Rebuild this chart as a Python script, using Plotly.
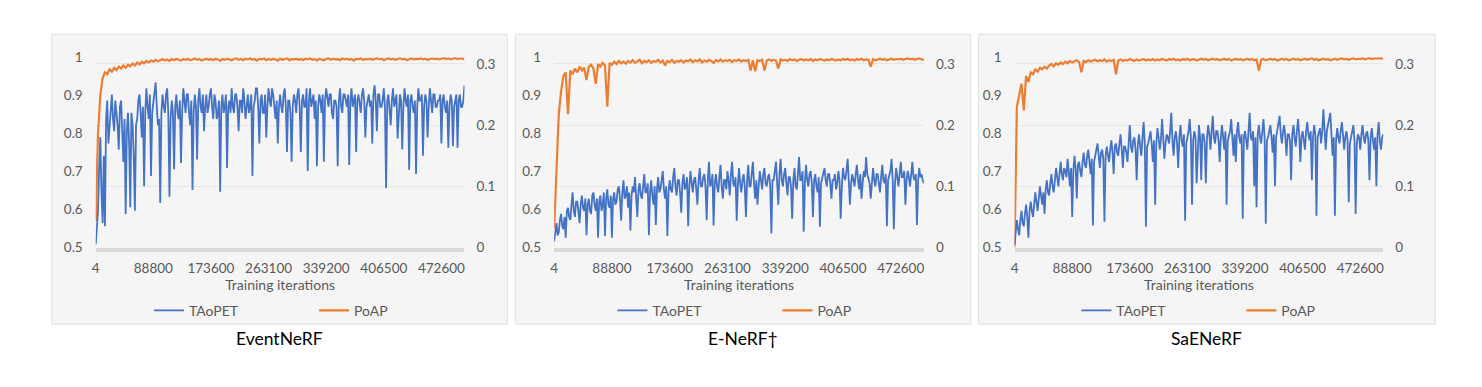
import plotly.graph_objects as go

# ---------------- data ----------------
panel_titles = ["EventNeRF", "E-NeRF\u2020", "SaENeRF"]
x_tick_labels = ["4", "88800", "173600", "263100", "339200", "406500", "472600"]
x_title = "Training iterations"
series_names = ["TAoPET", "PoAP"]

taopet_eventnerf = [
    0.005, 0.03, 0.06, 0.13, 0.18, 0.09, 0.04, 0.15, 0.035, 0.21, 0.24, 0.17, 0.20, 0.23, 0.25, 0.21, 0.19, 0.24, 0.22, 0.20,
    0.16, 0.23, 0.24, 0.19, 0.14, 0.21, 0.055, 0.19, 0.22, 0.17, 0.066, 0.22, 0.20, 0.15, 0.06, 0.20, 0.21, 0.24, 0.25, 0.22,
    0.18, 0.23, 0.10, 0.22, 0.26, 0.23, 0.21, 0.25, 0.117, 0.22, 0.24, 0.26, 0.27, 0.23, 0.20, 0.21, 0.073, 0.22, 0.25, 0.23,
    0.22, 0.25, 0.26, 0.22, 0.083, 0.21, 0.24, 0.22, 0.128, 0.23, 0.25, 0.22, 0.21, 0.24, 0.138, 0.22, 0.26, 0.24, 0.22, 0.25,
    0.25, 0.22, 0.20, 0.24, 0.094, 0.22, 0.25, 0.23, 0.144, 0.24, 0.26, 0.23, 0.22, 0.25, 0.19, 0.23, 0.25, 0.22, 0.23, 0.25,
    0.26, 0.23, 0.21, 0.25, 0.24, 0.21, 0.22, 0.24, 0.091, 0.23, 0.25, 0.22, 0.23, 0.25, 0.13, 0.23, 0.24, 0.22, 0.26, 0.23,
    0.22, 0.25, 0.25, 0.23, 0.19, 0.24, 0.24, 0.22, 0.26, 0.24, 0.21, 0.23, 0.25, 0.22, 0.23, 0.25, 0.117, 0.23, 0.24, 0.26,
    0.26, 0.23, 0.17, 0.24, 0.25, 0.22, 0.22, 0.25, 0.18, 0.23, 0.26, 0.24, 0.23, 0.26, 0.25, 0.23, 0.21, 0.24, 0.17, 0.23,
    0.25, 0.23, 0.22, 0.25, 0.26, 0.23, 0.156, 0.24, 0.24, 0.22, 0.14, 0.23, 0.25, 0.24, 0.22, 0.25, 0.26, 0.23, 0.156, 0.24,
    0.25, 0.23, 0.23, 0.26, 0.125, 0.24, 0.26, 0.23, 0.24, 0.25, 0.21, 0.24, 0.133, 0.23, 0.25, 0.24, 0.22, 0.25, 0.14, 0.24,
    0.26, 0.24, 0.23, 0.25, 0.25, 0.22, 0.21, 0.24, 0.24, 0.23, 0.133, 0.24, 0.26, 0.23, 0.22, 0.25, 0.25, 0.24, 0.23, 0.25,
    0.135, 0.24, 0.26, 0.23, 0.24, 0.25, 0.156, 0.24, 0.25, 0.23, 0.22, 0.25, 0.26, 0.24, 0.18, 0.23, 0.24, 0.25, 0.23, 0.24,
    0.17, 0.25, 0.265, 0.24, 0.19, 0.25, 0.25, 0.23, 0.23, 0.24, 0.26, 0.23, 0.097, 0.24, 0.25, 0.23, 0.20, 0.24, 0.26, 0.23,
    0.24, 0.25, 0.178, 0.23, 0.25, 0.24, 0.16, 0.23, 0.26, 0.24, 0.23, 0.25, 0.127, 0.24, 0.25, 0.23, 0.22, 0.24, 0.12, 0.23,
    0.26, 0.24, 0.24, 0.25, 0.15, 0.23, 0.25, 0.24, 0.18, 0.23, 0.26, 0.24, 0.22, 0.25, 0.25, 0.23, 0.23, 0.24, 0.24, 0.25,
    0.17, 0.24, 0.25, 0.23, 0.22, 0.24, 0.163, 0.23, 0.25, 0.24, 0.166, 0.23, 0.24, 0.25, 0.163, 0.24, 0.25, 0.23, 0.23, 0.24, 0.265,
]
poap_eventnerf = [
    0.57, 0.80, 0.90, 0.945, 0.96, 0.955, 0.968, 0.962, 0.972, 0.966,
    0.975, 0.97, 0.978, 0.972, 0.98, 0.976, 0.983, 0.978, 0.986, 0.981,
    0.988, 0.984, 0.99, 0.986, 0.991, 0.988, 0.993, 0.989, 0.992, 0.995,
    0.991, 0.994, 0.99, 0.995, 0.992, 0.996, 0.993, 0.991, 0.995, 0.993,
    0.996, 0.992, 0.994, 0.997, 0.993, 0.995, 0.991, 0.994, 0.996, 0.993,
    0.995, 0.992, 0.996, 0.994, 0.99, 0.995, 0.993, 0.996, 0.994, 0.992,
    0.995, 0.997, 0.993, 0.995, 0.992, 0.996, 0.994, 0.997, 0.993, 0.995,
    0.991, 0.996, 0.994, 0.997, 0.992, 0.995, 0.993, 0.996, 0.994, 0.991,
    0.996, 0.993, 0.995, 0.997, 0.992, 0.995, 0.994, 0.996, 0.993, 0.995,
    0.992, 0.996, 0.994, 0.997, 0.993, 0.995, 0.991, 0.996, 0.994, 0.992,
    0.995, 0.997, 0.993, 0.996, 0.994, 0.995, 0.992, 0.997, 0.994, 0.996,
    0.993, 0.995, 0.991, 0.996, 0.994, 0.997, 0.993, 0.995, 0.994, 0.996,
    0.993, 0.995, 0.997, 0.994, 0.996, 0.992, 0.995, 0.997, 0.994, 0.996,
    0.993, 0.995, 0.997, 0.994, 0.996, 0.992, 0.995, 0.997, 0.994, 0.996,
    0.995, 0.997, 0.994, 0.996, 0.993, 0.995, 0.997, 0.995, 0.996, 0.994,
    0.996, 0.998, 0.995, 0.997, 0.994, 0.996, 0.998, 0.995, 0.997, 0.996, 0.995,
]

taopet_enerf = [
    0.01, 0.03, 0.04, 0.02, 0.025, 0.045, 0.055, 0.035, 0.03, 0.05, 0.016, 0.06, 0.065, 0.05, 0.045, 0.07, 0.09, 0.06, 0.05, 0.075,
    0.075, 0.06, 0.04, 0.07, 0.085, 0.065, 0.06, 0.08, 0.02, 0.07, 0.08, 0.06, 0.055, 0.085, 0.09, 0.07, 0.06, 0.08, 0.016, 0.075,
    0.085, 0.06, 0.07, 0.09, 0.019, 0.08, 0.095, 0.07, 0.065, 0.085, 0.016, 0.08, 0.09, 0.07, 0.075, 0.095, 0.1, 0.08, 0.044, 0.09,
    0.11, 0.08, 0.085, 0.1, 0.065, 0.09, 0.028, 0.085, 0.1, 0.09, 0.115, 0.08, 0.05, 0.095, 0.105, 0.085, 0.08, 0.1, 0.12, 0.09,
    0.09, 0.105, 0.02, 0.09, 0.11, 0.085, 0.07, 0.1, 0.037, 0.095, 0.115, 0.09, 0.095, 0.11, 0.125, 0.095, 0.08, 0.1, 0.019, 0.09,
    0.11, 0.095, 0.09, 0.115, 0.13, 0.1, 0.085, 0.11, 0.11, 0.09, 0.057, 0.105, 0.12, 0.095, 0.1, 0.115, 0.035, 0.1, 0.125, 0.105,
    0.09, 0.11, 0.115, 0.095, 0.07, 0.11, 0.13, 0.1, 0.1, 0.115, 0.12, 0.1, 0.045, 0.11, 0.14, 0.1, 0.105, 0.12, 0.036, 0.105,
    0.12, 0.1, 0.09, 0.115, 0.135, 0.1, 0.08, 0.11, 0.11, 0.095, 0.125, 0.11, 0.085, 0.12, 0.14, 0.105, 0.1, 0.115, 0.044, 0.1,
    0.13, 0.105, 0.09, 0.11, 0.12, 0.1, 0.05, 0.11, 0.135, 0.1, 0.1, 0.12, 0.14, 0.105, 0.08, 0.11, 0.07, 0.1, 0.125, 0.11,
    0.095, 0.12, 0.13, 0.105, 0.1, 0.115, 0.12, 0.1, 0.023, 0.11, 0.11, 0.125, 0.14, 0.105, 0.07, 0.12, 0.145, 0.11, 0.1, 0.12,
    0.13, 0.105, 0.085, 0.115, 0.115, 0.1, 0.047, 0.11, 0.13, 0.1, 0.095, 0.12, 0.148, 0.11, 0.11, 0.125, 0.026, 0.105, 0.135, 0.11,
    0.1, 0.12, 0.125, 0.105, 0.05, 0.11, 0.12, 0.1, 0.09, 0.115, 0.034, 0.105, 0.115, 0.12, 0.13, 0.11, 0.1, 0.12, 0.12, 0.105,
    0.08, 0.11, 0.11, 0.12, 0.095, 0.105, 0.125, 0.11, 0.047, 0.1, 0.13, 0.115, 0.11, 0.125, 0.145, 0.11, 0.07, 0.105, 0.12, 0.11,
    0.1, 0.12, 0.135, 0.11, 0.095, 0.12, 0.08, 0.105, 0.125, 0.115, 0.148, 0.12, 0.11, 0.105, 0.08, 0.115, 0.13, 0.11, 0.1, 0.12,
    0.12, 0.105, 0.09, 0.115, 0.135, 0.11, 0.105, 0.12, 0.035, 0.11, 0.12, 0.125, 0.145, 0.11, 0.03, 0.105, 0.13, 0.115, 0.1, 0.12,
    0.14, 0.115, 0.115, 0.125, 0.07, 0.11, 0.125, 0.115, 0.1, 0.12, 0.14, 0.115, 0.11, 0.12, 0.037, 0.11, 0.13, 0.115, 0.12, 0.11, 0.105,
]
poap_enerf = [
    0.55, 0.72, 0.85, 0.91, 0.95, 0.96, 0.85, 0.965, 0.955, 0.97,
    0.96, 0.975, 0.965, 0.972, 0.94, 0.975, 0.98, 0.97, 0.93, 0.982,
    0.975, 0.985, 0.978, 0.87, 0.985, 0.98, 0.988, 0.982, 0.99, 0.984,
    0.988, 0.983, 0.99, 0.986, 0.992, 0.985, 0.989, 0.993, 0.984, 0.99,
    0.987, 0.992, 0.985, 0.99, 0.988, 0.993, 0.986, 0.991, 0.978, 0.99,
    0.987, 0.993, 0.985, 0.99, 0.988, 0.992, 0.986, 0.991, 0.989, 0.994,
    0.987, 0.992, 0.989, 0.994, 0.986, 0.991, 0.988, 0.993, 0.99, 0.985,
    0.992, 0.989, 0.994, 0.988, 0.992, 0.99, 0.993, 0.987, 0.992, 0.99,
    0.994, 0.988, 0.992, 0.99, 0.993, 0.965, 0.991, 0.963, 0.992, 0.99,
    0.993, 0.965, 0.991, 0.994, 0.99, 0.993, 0.991, 0.97, 0.994, 0.991,
    0.993, 0.99, 0.995, 0.992, 0.994, 0.99, 0.993, 0.995, 0.991, 0.994,
    0.992, 0.995, 0.99, 0.994, 0.992, 0.995, 0.993, 0.991, 0.994, 0.992,
    0.995, 0.993, 0.991, 0.994, 0.992, 0.995, 0.993, 0.996, 0.992, 0.994,
    0.991, 0.995, 0.993, 0.996, 0.992, 0.994, 0.993, 0.975, 0.995, 0.992,
    0.994, 0.996, 0.993, 0.995, 0.992, 0.994, 0.996, 0.993, 0.995, 0.994,
    0.996, 0.993, 0.995, 0.997, 0.994, 0.996, 0.993, 0.995, 0.997, 0.994, 0.993,
]

taopet_saenerf = [
    0.005, 0.03, 0.045, 0.03, 0.02, 0.045, 0.06, 0.04, 0.035, 0.055, 0.07, 0.05, 0.016, 0.06, 0.075, 0.06, 0.05, 0.07, 0.09, 0.075,
    0.06, 0.08, 0.1, 0.085, 0.07, 0.09, 0.055, 0.095, 0.11, 0.09, 0.085, 0.105, 0.12, 0.1, 0.09, 0.11, 0.13, 0.115, 0.1, 0.12,
    0.14, 0.12, 0.11, 0.13, 0.125, 0.115, 0.145, 0.125, 0.1, 0.13, 0.05, 0.125, 0.15, 0.13, 0.08, 0.135, 0.14, 0.125, 0.115, 0.14,
    0.155, 0.135, 0.13, 0.15, 0.16, 0.14, 0.12, 0.145, 0.036, 0.14, 0.15, 0.16, 0.17, 0.15, 0.13, 0.155, 0.16, 0.145, 0.042, 0.15,
    0.165, 0.15, 0.14, 0.16, 0.175, 0.155, 0.12, 0.165, 0.17, 0.155, 0.15, 0.17, 0.185, 0.16, 0.13, 0.165, 0.165, 0.155, 0.14, 0.17,
    0.2, 0.165, 0.155, 0.175, 0.18, 0.16, 0.11, 0.17, 0.185, 0.165, 0.15, 0.18, 0.205, 0.17, 0.034, 0.165, 0.17, 0.18, 0.19, 0.17,
    0.14, 0.175, 0.07, 0.17, 0.195, 0.18, 0.16, 0.175, 0.21, 0.18, 0.145, 0.17, 0.185, 0.18, 0.17, 0.19, 0.22, 0.175, 0.15, 0.18,
    0.19, 0.17, 0.13, 0.18, 0.2, 0.175, 0.165, 0.185, 0.044, 0.17, 0.18, 0.19, 0.21, 0.18, 0.07, 0.175, 0.19, 0.18, 0.105, 0.175,
    0.2, 0.18, 0.11, 0.185, 0.185, 0.17, 0.105, 0.18, 0.2, 0.185, 0.16, 0.19, 0.215, 0.18, 0.17, 0.19, 0.19, 0.175, 0.14, 0.18,
    0.2, 0.18, 0.16, 0.19, 0.07, 0.175, 0.185, 0.19, 0.21, 0.18, 0.15, 0.185, 0.14, 0.19, 0.205, 0.18, 0.17, 0.185, 0.047, 0.18,
    0.19, 0.175, 0.16, 0.19, 0.22, 0.18, 0.175, 0.19, 0.1, 0.18, 0.066, 0.185, 0.2, 0.18, 0.17, 0.19, 0.21, 0.18, 0.039, 0.175,
    0.18, 0.19, 0.2, 0.18, 0.155, 0.185, 0.1, 0.18, 0.19, 0.2, 0.215, 0.185, 0.17, 0.19, 0.2, 0.18, 0.15, 0.185, 0.185, 0.175,
    0.11, 0.185, 0.2, 0.18, 0.165, 0.19, 0.21, 0.185, 0.14, 0.18, 0.19, 0.175, 0.16, 0.19, 0.205, 0.185, 0.175, 0.19, 0.11, 0.18,
    0.2, 0.185, 0.052, 0.18, 0.19, 0.195, 0.17, 0.19, 0.226, 0.185, 0.16, 0.19, 0.2, 0.205, 0.22, 0.185, 0.15, 0.18, 0.052, 0.175,
    0.195, 0.18, 0.17, 0.19, 0.205, 0.185, 0.16, 0.18, 0.19, 0.175, 0.074, 0.17, 0.18, 0.19, 0.2, 0.175, 0.055, 0.17, 0.185, 0.18,
    0.16, 0.185, 0.2, 0.18, 0.17, 0.185, 0.19, 0.175, 0.11, 0.18, 0.195, 0.175, 0.16, 0.18, 0.1, 0.185, 0.205, 0.175, 0.16, 0.18, 0.185,
]
poap_saenerf = [
    0.5, 0.87, 0.9, 0.93, 0.86, 0.95, 0.935, 0.96, 0.955, 0.968,
    0.962, 0.972, 0.968, 0.975, 0.97, 0.978, 0.982, 0.976, 0.984, 0.98,
    0.986, 0.982, 0.988, 0.984, 0.99, 0.986, 0.989, 0.992, 0.987, 0.96,
    0.99, 0.987, 0.992, 0.988, 0.991, 0.993, 0.989, 0.992, 0.99, 0.994,
    0.988, 0.992, 0.99, 0.993, 0.955, 0.991, 0.994, 0.99, 0.993, 0.991,
    0.995, 0.992, 0.99, 0.994, 0.991, 0.993, 0.995, 0.991, 0.994, 0.992,
    0.995, 0.991, 0.994, 0.992, 0.996, 0.993, 0.991, 0.995, 0.993, 0.996,
    0.992, 0.994, 0.991, 0.995, 0.993, 0.996, 0.992, 0.994, 0.995, 0.991,
    0.994, 0.996, 0.993, 0.995, 0.992, 0.994, 0.996, 0.993, 0.995, 0.992,
    0.994, 0.996, 0.993, 0.995, 0.991, 0.994, 0.996, 0.993, 0.995, 0.992,
    0.994, 0.996, 0.993, 0.995, 0.992, 0.994, 0.965, 0.993, 0.995, 0.992,
    0.994, 0.996, 0.993, 0.995, 0.991, 0.994, 0.996, 0.993, 0.995, 0.992,
    0.994, 0.996, 0.993, 0.995, 0.992, 0.994, 0.996, 0.993, 0.995, 0.997,
    0.993, 0.995, 0.992, 0.994, 0.996, 0.993, 0.995, 0.992, 0.994, 0.996,
    0.993, 0.995, 0.997, 0.994, 0.996, 0.993, 0.995, 0.997, 0.994, 0.996,
    0.995, 0.997, 0.994, 0.996, 0.998, 0.995, 0.997, 0.996, 0.998, 0.996, 0.997,
]

taopet_all = [taopet_eventnerf, taopet_enerf, taopet_saenerf]
poap_all = [poap_eventnerf, poap_enerf, poap_saenerf]

# ---------------- layout helpers ----------------
PAGE_W, PAGE_H = 1482, 387
OFF = 8  # the page body has an 8px default margin on every side
W, H = PAGE_W - 2 * OFF, PAGE_H - 2 * OFF  # figure fits the window exactly
BLUE = "#4472C4"
ORANGE = "#ED7D31"
TICK_COLOR = "#595959"
FONT = "Lato, 'Open Sans', sans-serif"

# positions below are in window pixels
plot_px_x = [(92, 462), (552, 923), (1014, 1384)]
box_px_x = [(48, 505), (513, 970), (978, 1436)]
plot_px_top, plot_px_bottom = 51, 250
box_px_top, box_px_bottom = 27, 330


def fx(p):
    return (p - OFF) / W


def fy(p):
    return 1 - (p - OFF) / H


fig = go.Figure()
layout = dict(
    width=W, height=H, autosize=False,
    margin=dict(l=0, r=0, t=0, b=0),
    paper_bgcolor="white", plot_bgcolor="rgba(0,0,0,0)",
    font=dict(family=FONT, color=TICK_COLOR, size=13),
    shapes=[], annotations=[],
)

for i in range(3):
    n = i + 1
    xname = "x" if n == 1 else f"x{n}"
    yl = 2 * n - 1
    yr = 2 * n
    ylname = "y" if yl == 1 else f"y{yl}"
    yrname = f"y{yr}"
    legname = "legend" if n == 1 else f"legend{n}"

    t = taopet_all[i]
    p = poap_all[i]
    nt, npp = len(t), len(p)
    step_p = (nt - 1) / (npp - 1)
    fig.add_trace(go.Scatter(
        x=list(range(nt)), y=t, name=series_names[0], mode="lines",
        line=dict(color=BLUE, width=1.8), xaxis=xname, yaxis=yrname,
        legend=legname, hoverinfo="skip"))
    fig.add_trace(go.Scatter(
        x=[k * step_p for k in range(npp)], y=p, name=series_names[1], mode="lines",
        line=dict(color=ORANGE, width=2.2), xaxis=xname, yaxis=ylname,
        legend=legname, hoverinfo="skip"))

    label_step = 25 * step_p  # a category label every 25 PoAP samples
    tickvals = [k * label_step for k in range(len(x_tick_labels))]
    x0, x1 = plot_px_x[i]
    dom_y = [fy(plot_px_bottom), fy(plot_px_top)]

    layout["xaxis" if n == 1 else f"xaxis{n}"] = dict(
        domain=[fx(x0), fx(x1)], anchor=ylname,
        range=[0, nt - 1], tickmode="array", tickvals=tickvals,
        ticktext=x_tick_labels, showgrid=False, zeroline=False,
        showline=True, linecolor="#d9d9d9", linewidth=4, ticks="",
        ticklabelstandoff=5, tickfont=dict(size=13.5),
        title=dict(text=x_title, standoff=3, font=dict(size=14, color=TICK_COLOR)),
        fixedrange=True,
    )
    layout["yaxis" if yl == 1 else f"yaxis{yl}"] = dict(
        domain=dom_y, anchor=xname, range=[0.5, 1.0],
        dtick=0.1, tick0=0.5, showgrid=False, zeroline=False,
        showline=False, ticks="", ticklabelstandoff=12, fixedrange=True,
        tickfont=dict(size=13.5),
    )
    layout[f"yaxis{yr}"] = dict(
        domain=dom_y, anchor=xname, overlaying=ylname, side="right",
        range=[0, 0.311], dtick=0.1, tick0=0, showgrid=True,
        gridcolor="#e6e6e6", gridwidth=1, zeroline=False, showline=False,
        ticks="", ticklabelstandoff=11, fixedrange=True,
        tickfont=dict(size=13.5),
    )

    bx0, bx1 = box_px_x[i]
    layout["shapes"].append(dict(
        type="rect", xref="paper", yref="paper", layer="below",
        x0=fx(bx0), x1=fx(bx1), y0=fy(box_px_bottom), y1=fy(box_px_top),
        fillcolor="#f5f5f5", line=dict(color="#dedede", width=1)))

    layout[legname] = dict(
        orientation="h", x=fx((bx0 + bx1) / 2 - 131), xanchor="left",
        y=fy(316), yanchor="middle", bgcolor="rgba(0,0,0,0)",
        font=dict(size=14, color=TICK_COLOR), entrywidth=120,
        entrywidthmode="pixels", itemwidth=30, tracegroupgap=0,
    )

    layout["annotations"].append(dict(
        text=panel_titles[i], xref="paper", yref="paper",
        x=fx((bx0 + bx1) / 2), y=fy(345), xanchor="center", yanchor="middle",
        showarrow=False, font=dict(size=17.5, color="#000000", family=FONT)))

fig.update_layout(**layout)
fig.write_html("out.html")
